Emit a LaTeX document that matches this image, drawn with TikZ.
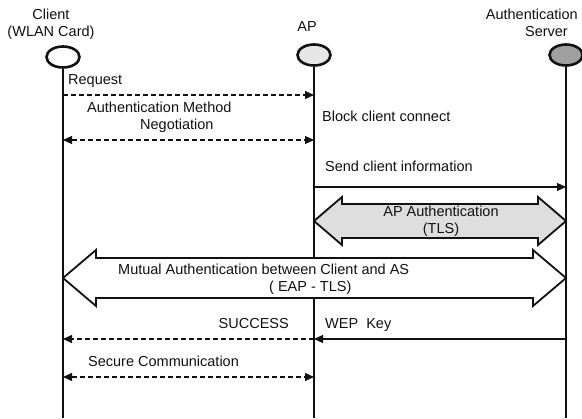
\documentclass[tikz,border=0pt]{standalone}
\usepackage{fontspec}
\setmainfont{Liberation Sans}
\usetikzlibrary{
  arrows.meta,
  shapes.geometric,
  calc
}
\definecolor{sqInk}{HTML}{111111}
\definecolor{sqAP}{HTML}{E6E6E6}
\definecolor{sqAS}{HTML}{A0A0A0}
\definecolor{sqTLS}{HTML}{DEDEDE}
\tikzset{
  sqfont/.style={font=\fontsize{14.5}{17}\selectfont},
  actor/.style={
    draw=sqInk, ellipse, line width=2.6pt, minimum width=33pt, minimum height=21pt,
    inner sep=0pt, fill=white
  },
  who/.style={sqfont, align=center, inner sep=0pt, text=sqInk},
  lifeline/.style={draw=sqInk, line width=2.4pt},
  msg/.style={-{Triangle[length=9pt, width=8pt]}, line width=1.2pt, sqInk},
  dmsg/.style={msg, dash pattern=on 5pt off 3pt},
  ddmsg/.style={dmsg, {Triangle[length=9pt, width=8pt]}-{Triangle[length=9pt, width=8pt]}},
  fatarrow/.style={draw=sqInk, line width=1.8pt, line join=miter, fill=white},
  tag/.style={sqfont, inner sep=0pt, text=sqInk}
}

\begin{document}
\begin{tikzpicture}[x=1pt, y=-1pt]
  \useasboundingbox (0,0) rectangle (582,419);
  % actors
  \node[actor] (cl) at (63,57) {};
  \node[actor, fill=sqAP] (ap) at (314,55) {};
  \node[actor, fill=sqAS] (as) at (566,55) {};
  \node[who] (clName) at (51,24.5) {Client\\(WLAN Card)};
  \node[who] (apName) at (307,27) {AP};
  \node[who, align=right, anchor=east] (asName) at (578,22.5) {Authentication\\Server\hspace*{10pt}};
  % message rows
  \coordinate (yReq) at (0,95);
  \coordinate (yNeg) at (0,140);
  \coordinate (ySend) at (0,187);
  \coordinate (yTLS) at (0,221);
  \coordinate (yEAP) at (0,278);
  \coordinate (yKey) at (0,339);
  \coordinate (ySec) at (0,377);
  \coordinate (yEnd) at (0,418);
  \foreach \n in {cl,ap,as}{
    \draw[lifeline] (\n.south) -- (\n |- yEnd);
  }
  % messages
  \draw[dmsg] (cl |- yReq) -- (ap |- yReq);
  \node[tag, anchor=base west] (req) at (68,85) {Request};
  \draw[ddmsg] (cl |- yNeg) -- (ap |- yNeg);
  \node[tag, anchor=west, align=left] (neg) at (87,117) {Authentication Method\\\hspace*{53pt}Negotiation};
  \node[tag, anchor=base west] (block) at (322,122) {Block client connect};
  \draw[msg] (ap |- ySend) -- (as |- ySend);
  \node[tag, anchor=base west] (send) at (325,172) {Send client information};
  % AP authentication
  \draw[fatarrow, fill=sqTLS] (ap |- yTLS) -- ++(28,-24) -- ++(0,7)
    -- ($(as |- yTLS)+(-28,-17)$) -- ++(0,-7) -- (as |- yTLS) -- ++(-28,24)
    -- ++(0,-7) -- ($(ap |- yTLS)+(28,17)$) -- ++(0,7) -- cycle;
  \node[tag, align=center] (tls) at (441,221) {AP Authentication\\(TLS)};
  % mutual authentication
  \draw[fatarrow] (cl |- yEAP) -- ++(33,-28) -- ++(0,8)
    -- ($(as |- yEAP)+(-33,-20)$) -- ++(0,-8) -- (as |- yEAP) -- ++(-33,28)
    -- ++(0,-8) -- ($(cl |- yEAP)+(33,20)$) -- ++(0,8) -- cycle;
  \node[tag, anchor=west, align=left] (eap) at (118,279.5) {Mutual Authentication between Client and AS\\\hspace*{151pt}( EAP - TLS)};
  % key delivery
  \draw[msg] (as |- yKey) -- (ap |- yKey);
  \node[tag, anchor=base west] (wep) at (325,329) {WEP~~Key};
  \draw[dmsg] (ap |- yKey) -- (cl |- yKey);
  \node[tag, anchor=base east] (succ) at (289,329) {SUCCESS};
  \draw[ddmsg] (cl |- ySec) -- (ap |- ySec);
  \node[tag, anchor=base west] (sec) at (88,367) {Secure Communication};
\end{tikzpicture}
\end{document}
